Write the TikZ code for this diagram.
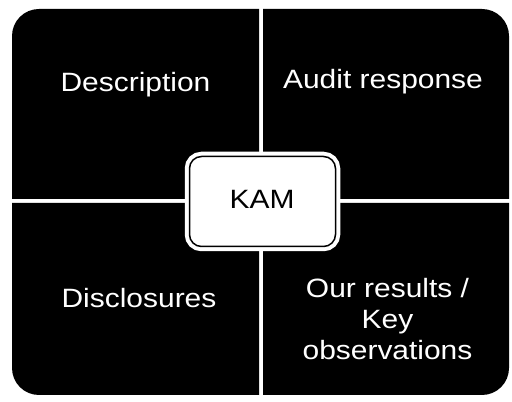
\documentclass[tikz,border=0pt]{standalone}
\usepackage{fontspec}
\setmainfont{Liberation Sans}[FakeStretch=1.13]
\begin{document}
\begin{tikzpicture}[x=1pt,y=1pt,
  quad/.style={fill=black},
  lbl/.style={text=white,font=\fontsize{26.5}{31}\selectfont,inner sep=0pt,anchor=base,align=center},
  kambox/.style={draw=black,line width=1.5pt,fill=white,rounded corners=12pt,
    minimum width=146pt,minimum height=90pt,
    preaction={draw=white,line width=9.5pt}}]
\useasboundingbox[fill=white] (0,0) rectangle (512,402);
% quadrants
\fill[quad] (12,203) -- (12,366) arc[start angle=180,end angle=90,radius=27] -- (259,393) -- (259,203) -- cycle;
\fill[quad] (263,203) -- (263,393) -- (482,393) arc[start angle=90,end angle=0,radius=27] -- (509,203) -- cycle;
\fill[quad] (259,199) -- (259,7) -- (39,7) arc[start angle=270,end angle=180,radius=27] -- (12,199) -- cycle;
\fill[quad] (263,199) -- (263,7) -- (482,7) arc[start angle=270,end angle=360,radius=27] -- (509,199) -- cycle;
% centre box
\node[kambox] (kam) at (262.5,200.5) {};
\node[inner sep=0pt,font=\fontsize{26.5}{31}\selectfont] (kamtext) at (262,203) {KAM};
% labels
\node[lbl] (desc) at (135.5,310) {Description};
\node[lbl] (audit) at (383,313) {Audit response};
\node[lbl] (discl) at (139,94) {Disclosures};
\node[lbl] (results) at (387.5,42) {Our results /\\Key\\observations};
\end{tikzpicture}
\end{document}
